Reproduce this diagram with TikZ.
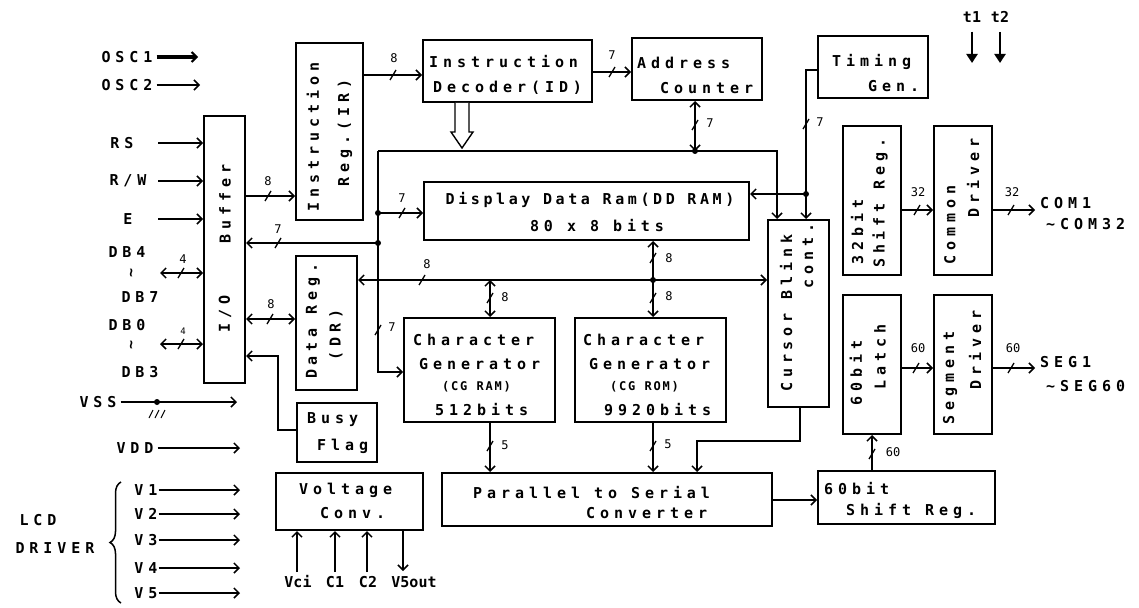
\documentclass[tikz,border=0pt]{standalone}
\usepackage{fontspec}
\usetikzlibrary{arrows.meta,decorations.pathreplacing}
\newfontfamily\dmf{DejaVu Sans Mono}[LetterSpace=33,BoldFont={DejaVu Sans Mono Bold}]
\newfontfamily\dmd{DejaVu Sans Mono}[LetterSpace=24,BoldFont={DejaVu Sans Mono Bold}]
\newfontfamily\dms{DejaVu Sans Mono}[LetterSpace=15,BoldFont={DejaVu Sans Mono Bold}]
\newfontfamily\dmn{DejaVu Sans Mono}[BoldFont={DejaVu Sans Mono Bold}]
\newcommand\bxf{\dmf\bfseries\fontsize{15}{17}\selectfont}
\newcommand\ddf{\dmd\bfseries\fontsize{15}{17}\selectfont}
\newcommand\smf{\dms\bfseries\fontsize{12}{14}\selectfont}
\newcommand\nmf{\dmn\fontsize{12}{14}\selectfont}
\newcommand\pinf{\dmn\bfseries\fontsize{15}{17}\selectfont}
\newcommand\blk[5]{\node[box, minimum width={#4-#2}, minimum height={#5-#3}] (#1) at ({(#2+#4)/2},{(#3+#5)/2}) {};}
\tikzset{
  box/.style={draw, line width=2pt, inner sep=0pt},
  t/.style={font=\bxf, inner sep=0pt},
  td/.style={font=\ddf, inner sep=0pt},
  ts/.style={font=\smf, inner sep=0pt},
  tp/.style={font=\pinf, inner sep=0pt},
  n/.style={font=\nmf, inner sep=0pt},
  ln/.style={line width=1.7pt},
  tip/.tip={Straight Barb[length=5pt,width=10pt,line width=1.5pt]},
  arr/.style={ln, -tip},
  arr2/.style={ln, tip-tip},
  bus/.pic={\draw[line width=1.3pt] (-3,5) -- (3,-5);}
}
\begin{document}
\begin{tikzpicture}[x=1pt,y=-1pt]
\useasboundingbox (0,0) rectangle (1139,607);
% blocks
\blk{buf}{204}{116}{245}{383}
\blk{ir}{296}{43}{363}{220}
\blk{id}{423}{40}{592}{102}
\blk{ac}{632}{38}{762}{100}
\blk{tg}{818}{36}{928}{98}
\blk{dd}{424}{182}{749}{240}
\blk{dr}{296}{256}{357}{390}
\blk{cgram}{404}{318}{555}{422}
\blk{cgrom}{575}{318}{726}{422}
\blk{cb}{768}{220}{829}{407}
\blk{sra}{843}{126}{901}{275}
\blk{comd}{934}{126}{992}{275}
\blk{lat}{843}{295}{901}{434}
\blk{segd}{934}{295}{992}{434}
\blk{ps}{442}{473}{772}{526}
\blk{srb}{818}{471}{995}{524}
\blk{busy}{297}{403}{377}{462}
\blk{vc}{276}{473}{423}{530}
% block texts
\node[t,rotate=90] at (225,204) {Buffer};
\node[t,rotate=90] at (225,314) {I/O};
\node[t,rotate=90] at (313,137) {Instruction};
\node[t,rotate=90] at (345,133) {Reg.(IR)};
\node[t,anchor=west] at (429,62) {Instruction};
\node[t,anchor=west] at (433,88) {Decoder(ID)};
\node[t,anchor=west] at (637,63) {Address};
\node[t,anchor=west] at (660,88) {Counter};
\node[t,anchor=west] at (832,62) {Timing};
\node[t,anchor=west] at (868,86) {Gen.};
\node[td] at (590,200) {Display Data Ram(DD RAM)};
\node[t] at (597,226) {80 x 8 bits};
\node[t,rotate=90] at (313,321) {Data Reg.};
\node[t,rotate=90] at (336,335) {(DR)};
\node[t,anchor=west] at (413,340) {Character};
\node[t,anchor=west] at (419,364) {Generator};
\node[ts,anchor=west] at (442,387) {(CG RAM)};
\node[t,anchor=west] at (435,410) {512bits};
\node[t,anchor=west] at (583,340) {Character};
\node[t,anchor=west] at (589,364) {Generator};
\node[ts,anchor=west] at (610,387) {(CG ROM)};
\node[t,anchor=west] at (604,410) {9920bits};
\node[t,rotate=90] at (786,313) {Cursor Blink};
\node[t,rotate=90] at (808,256) {cont.};
\node[t,rotate=90] at (857,232) {32bit};
\node[t,rotate=90] at (880,203) {Shift Reg.};
\node[t,rotate=90] at (950,225) {Common};
\node[t,rotate=90] at (973,178) {Driver};
\node[t,rotate=90] at (856,373) {60bit};
\node[t,rotate=90] at (880,357) {Latch};
\node[t,rotate=90] at (950,378) {Segment};
\node[t,rotate=90] at (975,350) {Driver};
\node[t,anchor=west] at (473,493) {Parallel to Serial};
\node[t,anchor=west] at (586,513) {Converter};
\node[t,anchor=west] at (824,489) {60bit};
\node[t,anchor=west] at (846,511) {Shift Reg.};
\node[t,anchor=west] at (307,420) {Busy};
\node[t,anchor=west] at (317,446) {Flag};
\node[t,anchor=west] at (299,490) {Voltage};
\node[t,anchor=west] at (320,513) {Conv.};
% left labels
\node[t] (osc1) at (127,57) {OSC1};
\node[t] (osc2) at (127,85) {OSC2};
\coordinate (o1) at (198,57);
\coordinate (o2) at (200,85);
\draw[line width=3.5pt, -{Straight Barb[length=5pt,width=10pt,line width=2pt]}] ([xshift=4]osc1.east) -- (o1);
\draw[arr] ([xshift=4]osc2.east) -- (o2);
\node[t] (rs) at (122,143) {RS};
\node[t] (rw) at (128,181) {R/W};
\node[t] (e) at (128,219) {E};
\draw[arr] (158,143) -- (buf.west |- rs.east);
\draw[arr] (158,181) -- (buf.west |- rw.east);
\draw[arr] (158,219) -- (buf.west |- e.east);
\node[t] at (127,252) {DB4};
\node[t,rotate=90] at (133,273) {\textasciitilde};
\node[t] at (140,297) {DB7};
\node[t] at (127,325) {DB0};
\node[t,rotate=90] at (133,345) {\textasciitilde};
\node[t] at (140,372) {DB3};
\coordinate (d1) at (160,273);
\coordinate (d2) at (160,344);
\draw[arr2] (d1) -- (buf.west |- d1);
\draw[arr2] (d2) -- (buf.west |- d2);
\pic at (181,273) {bus}; \node[n] at (183,259) {4};
\pic at (181,344) {bus}; \node[n,font=\dmn\fontsize{9}{10}\selectfont] at (183,331) {4};
% power
\node[t] (vss) at (98,402) {VSS};
\coordinate (vsse) at (237,402);
\draw[arr] ([xshift=4]vss.east) -- (vsse);
\fill (157,402) circle[radius=3pt];
\foreach \gx in {151,157,163} \draw[line width=1pt] (\gx-2,418) -- (\gx+2,410);
\node[t] (vdd) at (135,448) {VDD};
\coordinate (vdde) at (240,448);
\draw[arr] ([xshift=4]vdd.east) -- (vdde);
\foreach \i/\yy in {1/490,2/514,3/540,4/568,5/593}{
  \node[t] (v\i) at (146,\yy) {V\i};
  \coordinate (ve\i) at (240,\yy);
  \draw[arr] ([xshift=1]v\i.east) -- (ve\i);
}
\node[t] at (38,520) {LCD};
\node[t] at (55,548) {DRIVER};
\draw[line width=1.5pt, decorate, decoration={brace, amplitude=11pt}] (121,603) -- (121,482);
% voltage converter pins
\node[tp] (vci) at (298,582) {Vci};
\node[tp] (c1) at (335,582) {C1};
\node[tp] (c2) at (368,582) {C2};
\node[tp] (vout) at (414,582) {V5out};
\draw[arr] (297,572) -- (vc.south -| 297,0);
\draw[arr] (335,572) -- (vc.south -| 335,0);
\draw[arr] (367,572) -- (vc.south -| 367,0);
\coordinate (vo) at (403,571);
\draw[arr] (vc.south -| vo) -- (vo);
% t1 t2
\node[tp] (t1) at (972,17) {t1};
\node[tp] (t2) at (1000,17) {t2};
\coordinate (t1e) at (972,63);
\coordinate (t2e) at (1000,63);
\draw[line width=2.5pt, -{Triangle[length=9pt,width=11pt]}] ([yshift=-9]t1.south) -- (t1e);
\draw[line width=2.5pt, -{Triangle[length=9pt,width=11pt]}] ([yshift=-9]t2.south) -- (t2e);
% internal connectors
\draw[arr] (buf.east |- 0,196) -- (ir.west |- 0,196);
\pic at (268,196) {bus}; \node[n] at (268,181) {8};
\draw[arr] (ir.east |- 0,75) -- (id.west |- 0,75);
\pic at (393,75) {bus}; \node[n] at (394,58) {8};
\draw[arr] (id.east |- 0,72) -- (ac.west |- 0,72);
\pic at (612,72) {bus}; \node[n] at (612,55) {7};
% hollow arrow
\draw[line width=1.4pt, fill=white] (455,103) -- (455,132) -- (451,132) -- (462,148) -- (473,132) -- (469,132) -- (469,103);
% internal bus from ID
\coordinate (jtl) at (378,151);
\draw[arr] (jtl) -- (777,151) -- (cb.north -| 777,0);
\draw[arr] (jtl) -- (378,372) -- (cgram.west |- 0,372);
\pic at (378,330) {bus}; \node[n] at (392,327) {7};
\draw[arr] (378,213) -- (dd.west |- 0,213);
\fill (378,213) circle[radius=3pt];
\pic at (402,213) {bus}; \node[n] at (402,198) {7};
\draw[arr] (378,243) -- (buf.east |- 0,243);
\fill (378,243) circle[radius=3pt];
\pic at (278,243) {bus}; \node[n] at (278,229) {7};
\draw[arr2] (ac.south -| 695,0) -- (695,151);
\fill (695,151) circle[radius=3pt];
\pic at (695,125) {bus}; \node[n] at (710,123) {7};
% timing
\draw[arr] (tg.west |- 0,70) -- (806,70) -- (cb.north -| 806,0);
\pic at (806,124) {bus}; \node[n] at (820,122) {7};
\fill (806,194) circle[radius=3pt];
\draw[arr] (806,194) -- (dd.east |- 0,194);
% DR bus
\draw[arr2] (dr.east |- 0,280) -- (cb.west |- 0,280);
\pic at (422,280) {bus}; \node[n] at (427,264) {8};
\draw[arr2] (490,280) -- (cgram.north -| 490,0);
\pic at (490,298) {bus}; \node[n] at (505,297) {8};
\draw[arr2] (dd.south -| 653,0) -- (cgrom.north -| 653,0);
\fill (653,280) circle[radius=3pt];
\pic at (653,258) {bus}; \node[n] at (669,258) {8};
\pic at (653,298) {bus}; \node[n] at (669,296) {8};
\draw[arr2] (buf.east |- 0,319) -- (dr.west |- 0,319);
\pic at (270,319) {bus}; \node[n] at (271,304) {8};
% busy flag
\draw[arr] (busy.west |- 0,430) -- (278,430) -- (278,356) -- (buf.east |- 0,356);
% to parallel-serial
\draw[arr] (cgram.south -| 490,0) -- (ps.north -| 490,0);
\pic at (490,446) {bus}; \node[n] at (505,445) {5};
\draw[arr] (cgrom.south -| 653,0) -- (ps.north -| 653,0);
\pic at (653,446) {bus}; \node[n] at (668,444) {5};
\draw[arr] (cb.south -| 800,0) -- (800,441) -- (697,441) -- (ps.north -| 697,0);
\draw[arr] (ps.east |- 0,500) -- (srb.west |- 0,500);
% segment side
\draw[arr] (srb.north -| 872,0) -- (lat.south -| 872,0);
\pic at (872,454) {bus}; \node[n] at (893,452) {60};
\draw[arr] (lat.east |- 0,368) -- (segd.west |- 0,368);
\pic at (916,368) {bus}; \node[n] at (918,348) {60};
\coordinate (sego) at (1035,368);
\draw[arr] (segd.east |- sego) -- (sego);
\pic at (1011,368) {bus}; \node[n] at (1013,348) {60};
\node[t,anchor=west] at (1040,362) {SEG1};
\node[t,anchor=west] at (1046,386) {\textasciitilde SEG60};
% common side
\draw[arr] (sra.east |- 0,210) -- (comd.west |- 0,210);
\pic at (917,210) {bus}; \node[n] at (918,192) {32};
\coordinate (como) at (1035,210);
\draw[arr] (comd.east |- como) -- (como);
\pic at (1011,210) {bus}; \node[n] at (1012,192) {32};
\node[t,anchor=west] at (1040,203) {COM1};
\node[t,anchor=west] at (1046,224) {\textasciitilde COM32};
\end{tikzpicture}
\end{document}
